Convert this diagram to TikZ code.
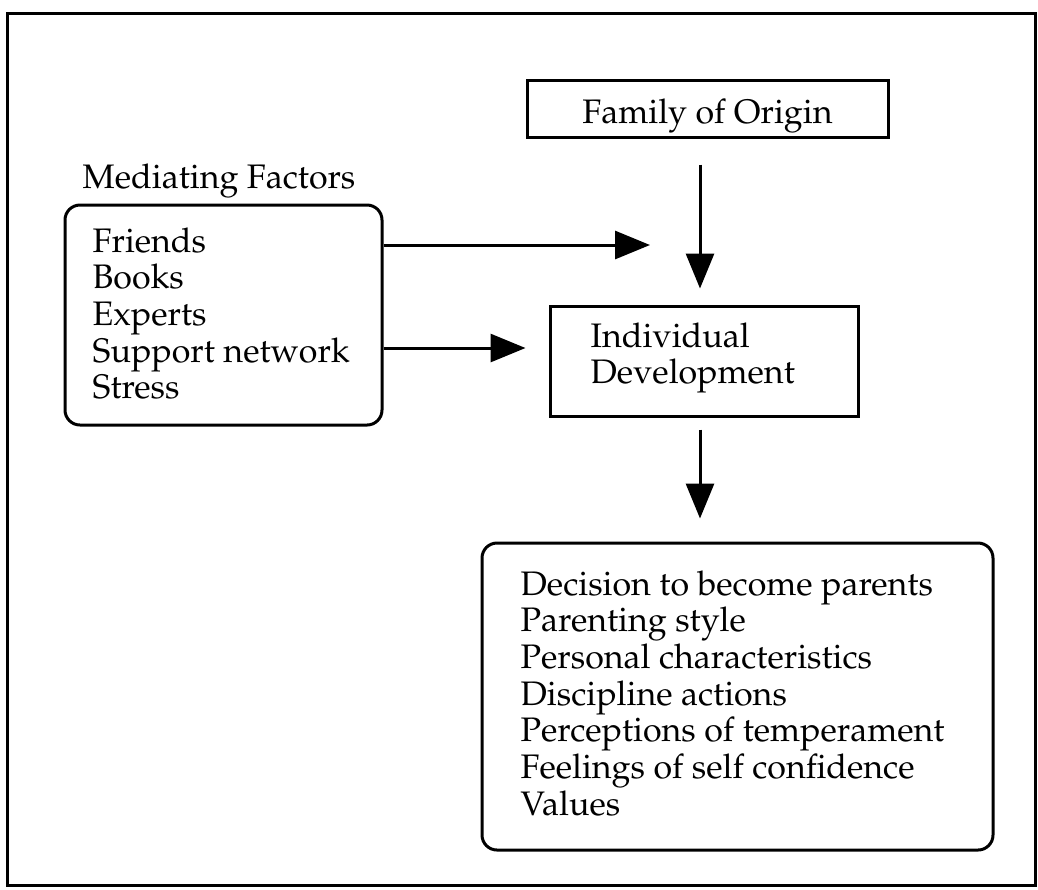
\documentclass[tikz,border=0pt]{standalone}
\usepackage[T1]{fontenc}
\usepackage{mathpazo}
\usetikzlibrary{arrows.meta}
\newcommand{\lines}[1]{\begin{tabular}[t]{@{}l@{}}#1\end{tabular}}
\begin{document}
\begin{tikzpicture}[x=0.3pt,y=-0.3pt,
  frame/.style={draw,line width=0.9pt},
  sqbox/.style={draw,line width=0.9pt,inner sep=0pt},
  rbox/.style={draw,line width=0.9pt,rounded corners=4.5pt,inner sep=0pt},
  txt/.style={font=\fontsize{10.2}{11}\selectfont,inner sep=0pt,anchor=base west},
  arr/.style={line width=0.9pt,-{Triangle[length=10.5pt,width=8.4pt]}}]
\useasboundingbox (0,0) rectangle (1038,889);
% outer frame
\draw[frame] (7,13) rectangle (1035,885);

% boxes
\node[sqbox,minimum width=108.3pt,minimum height=17.1pt] (fam) at (707.5,108.5) {};
\node[rbox,minimum width=95.1pt,minimum height=66pt] (med) at (223.5,315) {};
\node[sqbox,minimum width=92.4pt,minimum height=33pt] (ind) at (704,361) {};
\node[rbox,minimum width=153.3pt,minimum height=92.1pt] (res) at (737.5,696.5) {};

% texts (positioned by first baseline)
\node[txt,anchor=base] (famtext) at (707.5,123) {Family of Origin};
\node[txt] (medlabel) at (82,188) {Mediating Factors};
\node[txt] (medtext) at (92,252) {\lines{Friends\\Books\\Experts\\Support network\\Stress}};
\node[txt] (indtext) at (590,347) {\lines{Individual\\Development}};
\node[txt] (restext) at (520,595) {\lines{Decision to become parents\\Parenting style\\Personal characteristics\\Discipline actions\\Perceptions of temperament\\Feelings of self confidence\\Values}};

% connectors
\coordinate (a1) at (650,245);
\coordinate (a2) at (527,348);
\coordinate (ax) at (700,0);
\draw[arr] (med.east |- a1) -- (a1);
\draw[arr,shorten >=6.9pt] (med.east |- a2) -- (ind.west |- a2);
\draw[arr,shorten <=7.8pt,shorten >=4.8pt] (fam.south -| ax) -- (ind.north -| ax);
\draw[arr,shorten <=3.6pt,shorten >=6.9pt] (ind.south -| ax) -- (res.north -| ax);
\end{tikzpicture}
\end{document}
